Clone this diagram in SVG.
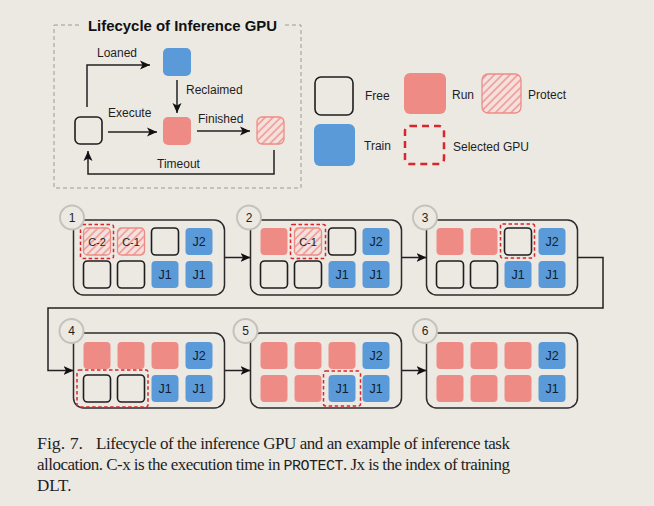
<svg xmlns="http://www.w3.org/2000/svg" width="654" height="506" viewBox="0 0 654 506">
<defs>
<style>
.bg{fill:#ece9e3}
.free{fill:none;stroke:#1e1e1e;stroke-width:1.6}
.run{fill:#ef8b85}
.train{fill:#5b9ad8}
.prot{fill:url(#hatch);stroke:#ef8b85;stroke-width:1.3}
.sel{fill:none;stroke:#d8262c;stroke-width:1.5;stroke-dasharray:3.5 2.5}
.panel{fill:none;stroke:#2b2b2b;stroke-width:1.5}
.badge{fill:#ece9e3;stroke:#c4c2bd;stroke-width:2}
.lbl{font-family:"Liberation Sans",Arial,sans-serif;font-size:12px;fill:#1e1e1e}
.num{font-family:"Liberation Sans",Arial,sans-serif;font-size:12px;fill:#1e1e1e;text-anchor:middle}
.jt{font-family:"Liberation Sans",Arial,sans-serif;font-size:12.5px;fill:#0f1d30;text-anchor:middle}
.ct{font-family:"Liberation Sans",Arial,sans-serif;font-size:11px;fill:#222;text-anchor:middle}
.cap{font-family:"Liberation Serif","Times New Roman",serif;font-size:17px;fill:#1e1e1e}
.mono{font-family:"Liberation Mono","Courier New",monospace;font-size:15px}
.conn{fill:none;stroke:#222;stroke-width:1.5}
</style>
<pattern id="hatch" patternUnits="userSpaceOnUse" width="5.5" height="5.5" patternTransform="rotate(45)">
<rect width="5.5" height="5.5" fill="#f4e0dc"/>
<line x1="1" y1="0" x2="1" y2="5.5" stroke="#ef8b85" stroke-width="1.3"/>
</pattern>
<marker id="ah" markerUnits="userSpaceOnUse" markerWidth="12" markerHeight="10" refX="10" refY="5" orient="auto">
<path d="M0,0.5 L10,5 L0,9.5 L2.5,5 Z" fill="#111"/>
</marker>
</defs>
<rect class="bg" x="0" y="0" width="654" height="506"/>

<!-- Lifecycle box -->
<g id="lifecycle">
<rect x="54" y="25" width="247" height="163" fill="none" stroke="#9a9a9a" stroke-width="1" stroke-dasharray="4 3"/>
<rect class="bg" x="82" y="14" width="202" height="22"/>
<text x="88" y="31" font-family="Liberation Sans,Arial,sans-serif" font-size="14" font-weight="bold" fill="#111" textLength="189" lengthAdjust="spacingAndGlyphs">Lifecycle of Inference GPU</text>
</g>
<g id="lc-free"><rect class="free" x="75" y="117" width="27" height="27" rx="5" stroke-width="2.2"/></g>
<g id="lc-train"><rect class="train" x="163" y="48" width="28" height="28" rx="5"/></g>
<g id="lc-run"><rect class="run" x="163" y="117" width="28" height="28" rx="5"/></g>
<g id="lc-protect"><rect class="prot" x="257" y="117" width="27" height="27" rx="5"/></g>
<g id="lc-connectors">
<path class="conn" d="M87,107 V65 H150" marker-end="url(#ah)"/>
<path class="conn" d="M177,80 V113" marker-end="url(#ah)"/>
<path class="conn" d="M108,132 H157" marker-end="url(#ah)"/>
<path class="conn" d="M197,131 H250" marker-end="url(#ah)"/>
<path class="conn" d="M274,150 V174 H88 V151" marker-end="url(#ah)"/>
<text class="lbl" x="97" y="57">Loaned</text>
<text class="lbl" x="186" y="94">Reclaimed</text>
<text class="lbl" x="108" y="117">Execute</text>
<text class="lbl" x="198" y="123">Finished</text>
<text class="lbl" x="157" y="168">Timeout</text>
</g>

<!-- Legend -->
<g id="legend-free"><rect class="free" x="315" y="77" width="38" height="38" rx="6" stroke-width="2.5"/><text class="lbl" x="365" y="100">Free</text></g>
<g id="legend-run"><rect class="run" x="404" y="73" width="42" height="41" rx="6"/><text class="lbl" x="452" y="99">Run</text></g>
<g id="legend-protect"><rect class="prot" x="482" y="74" width="39" height="39" rx="6" stroke-width="1.6"/><text class="lbl" x="528" y="99">Protect</text></g>
<g id="legend-train"><rect class="train" x="314" y="124" width="41" height="42" rx="6"/><text class="lbl" x="364" y="150">Train</text></g>
<g id="legend-selected"><rect x="405" y="126" width="39" height="38" rx="5" fill="none" stroke="#d8262c" stroke-width="2.5" stroke-dasharray="7 5"/><text class="lbl" x="453" y="151">Selected GPU</text></g>

<!-- Panels connectors -->
<g id="connectors">
<path class="conn" d="M224.5,257.5 H250.5" marker-end="url(#ah)"/>
<path class="conn" d="M401.5,257.5 H426.5" marker-end="url(#ah)"/>
<path class="conn" d="M577.5,257.5 H603 V308 H48 V370.5 H73.5" marker-end="url(#ah)"/>
<path class="conn" d="M224.5,370.5 H250.5" marker-end="url(#ah)"/>
<path class="conn" d="M401.5,370.5 H426.5" marker-end="url(#ah)"/>
</g>

<!-- Panel 1 -->
<g id="step1" transform="translate(73.5,220)">
<rect class="panel" x="0" y="0" width="151" height="75" rx="10"/>
<rect class="prot" x="10" y="8" width="27" height="27" rx="4"/><text class="ct" x="23.5" y="25.5">C-2</text>
<rect class="prot" x="44" y="8" width="27" height="27" rx="4"/><text class="ct" x="57.5" y="25.5">C-1</text>
<rect class="free" x="78" y="8" width="27" height="27" rx="4"/>
<rect class="train" x="112" y="8" width="27" height="27" rx="4"/><text class="jt" x="125.5" y="26">J2</text>
<rect class="free" x="10" y="41" width="27" height="27" rx="4"/>
<rect class="free" x="44" y="41" width="27" height="27" rx="4"/>
<rect class="train" x="78" y="41" width="27" height="27" rx="4"/><text class="jt" x="91.5" y="59">J1</text>
<rect class="train" x="112" y="41" width="27" height="27" rx="4"/><text class="jt" x="125.5" y="59">J1</text>
<rect class="sel" x="7" y="4.5" width="33" height="34" rx="2"/>
<circle class="badge" cx="-1.5" cy="-2.5" r="12"/><text class="num" x="-1.5" y="1.8">1</text>
</g>

<!-- Panel 2 -->
<g id="step2" transform="translate(250.5,220)">
<rect class="panel" x="0" y="0" width="151" height="75" rx="10"/>
<rect class="run" x="10" y="8" width="27" height="27" rx="4"/>
<rect class="prot" x="44" y="8" width="27" height="27" rx="4"/><text class="ct" x="57.5" y="25.5">C-1</text>
<rect class="free" x="78" y="8" width="27" height="27" rx="4"/>
<rect class="train" x="112" y="8" width="27" height="27" rx="4"/><text class="jt" x="125.5" y="26">J2</text>
<rect class="free" x="10" y="41" width="27" height="27" rx="4"/>
<rect class="free" x="44" y="41" width="27" height="27" rx="4"/>
<rect class="train" x="78" y="41" width="27" height="27" rx="4"/><text class="jt" x="91.5" y="59">J1</text>
<rect class="train" x="112" y="41" width="27" height="27" rx="4"/><text class="jt" x="125.5" y="59">J1</text>
<rect class="sel" x="40" y="4.5" width="35" height="34" rx="2"/>
<circle class="badge" cx="-1.5" cy="-2.5" r="12"/><text class="num" x="-1.5" y="1.8">2</text>
</g>

<!-- Panel 3 -->
<g id="step3" transform="translate(426.5,220)">
<rect class="panel" x="0" y="0" width="151" height="75" rx="10"/>
<rect class="run" x="10" y="8" width="27" height="27" rx="4"/>
<rect class="run" x="44" y="8" width="27" height="27" rx="4"/>
<rect class="free" x="78" y="8" width="27" height="27" rx="4"/>
<rect class="train" x="112" y="8" width="27" height="27" rx="4"/><text class="jt" x="125.5" y="26">J2</text>
<rect class="free" x="10" y="41" width="27" height="27" rx="4"/>
<rect class="free" x="44" y="41" width="27" height="27" rx="4"/>
<rect class="train" x="78" y="41" width="27" height="27" rx="4"/><text class="jt" x="91.5" y="59">J1</text>
<rect class="train" x="112" y="41" width="27" height="27" rx="4"/><text class="jt" x="125.5" y="59">J1</text>
<rect class="sel" x="74" y="4" width="34" height="34" rx="2"/>
<circle class="badge" cx="-1.5" cy="-2.5" r="12"/><text class="num" x="-1.5" y="1.8">3</text>
</g>

<!-- Panel 4 -->
<g id="step4" transform="translate(73.5,333)">
<rect class="panel" x="0" y="0" width="151" height="75" rx="10"/>
<rect class="run" x="10" y="9" width="27" height="27" rx="4"/>
<rect class="run" x="44" y="9" width="27" height="27" rx="4"/>
<rect class="run" x="78" y="9" width="27" height="27" rx="4"/>
<rect class="train" x="112" y="9" width="27" height="27" rx="4"/><text class="jt" x="125.5" y="27">J2</text>
<rect class="free" x="10" y="42" width="27" height="27" rx="4"/>
<rect class="free" x="44" y="42" width="27" height="27" rx="4"/>
<rect class="train" x="78" y="42" width="27" height="27" rx="4"/><text class="jt" x="91.5" y="60">J1</text>
<rect class="train" x="112" y="42" width="27" height="27" rx="4"/><text class="jt" x="125.5" y="60">J1</text>
<rect class="sel" x="3.5" y="37" width="71" height="37" rx="2"/>
<circle class="badge" cx="-2" cy="-2" r="12"/><text class="num" x="-2" y="2.3">4</text>
</g>

<!-- Panel 5 -->
<g id="step5" transform="translate(250.5,333)">
<rect class="panel" x="0" y="0" width="151" height="75" rx="10"/>
<rect class="run" x="10" y="9" width="27" height="27" rx="4"/>
<rect class="run" x="44" y="9" width="27" height="27" rx="4"/>
<rect class="run" x="78" y="9" width="27" height="27" rx="4"/>
<rect class="train" x="112" y="9" width="27" height="27" rx="4"/><text class="jt" x="125.5" y="27">J2</text>
<rect class="run" x="10" y="42" width="27" height="27" rx="4"/>
<rect class="run" x="44" y="42" width="27" height="27" rx="4"/>
<rect class="train" x="78" y="42" width="27" height="27" rx="4"/><text class="jt" x="91.5" y="60">J1</text>
<rect class="train" x="112" y="42" width="27" height="27" rx="4"/><text class="jt" x="125.5" y="60">J1</text>
<rect class="sel" x="73" y="38" width="37" height="35" rx="2"/>
<circle class="badge" cx="-5" cy="-2" r="12"/><text class="num" x="-5" y="2.3">5</text>
</g>

<!-- Panel 6 -->
<g id="step6" transform="translate(426.5,333)">
<rect class="panel" x="0" y="0" width="151" height="75" rx="10"/>
<rect class="run" x="10" y="9" width="27" height="27" rx="4"/>
<rect class="run" x="44" y="9" width="27" height="27" rx="4"/>
<rect class="run" x="78" y="9" width="27" height="27" rx="4"/>
<rect class="train" x="112" y="9" width="27" height="27" rx="4"/><text class="jt" x="125.5" y="27">J2</text>
<rect class="run" x="10" y="42" width="27" height="27" rx="4"/>
<rect class="run" x="44" y="42" width="27" height="27" rx="4"/>
<rect class="run" x="78" y="42" width="27" height="27" rx="4"/>
<rect class="train" x="112" y="42" width="27" height="27" rx="4"/><text class="jt" x="125.5" y="60">J1</text>
<circle class="badge" cx="-1.5" cy="-2" r="12"/><text class="num" x="-1.5" y="2.3">6</text>
</g>

<!-- Caption -->
<g id="caption">
<text class="cap" x="37" y="449" textLength="46" lengthAdjust="spacingAndGlyphs">Fig. 7.</text>
<text class="cap" x="96" y="449" textLength="414" lengthAdjust="spacing">Lifecycle of the inference GPU and an example of inference task</text>
<text class="cap" x="37" y="470" textLength="473" lengthAdjust="spacing">allocation. C-x is the execution time in <tspan class="mono">PROTECT</tspan>. Jx is the index of training</text>
<text class="cap" x="37" y="491">DLT.</text>
</g>
</svg>
